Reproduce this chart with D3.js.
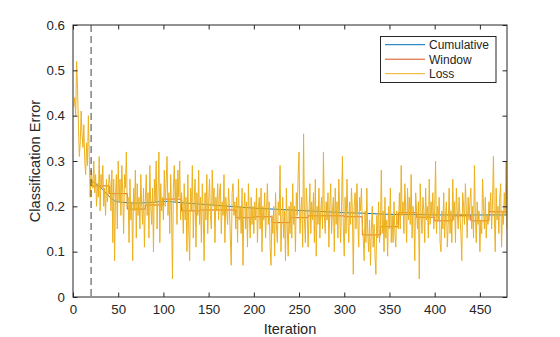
<!DOCTYPE html>
<html><head><meta charset="utf-8">
<script src="https://cdn.jsdelivr.net/npm/d3@7"></script>
<style>
html,body{margin:0;padding:0;background:#fff;}
svg{display:block;font-family:"Liberation Sans",Arial,sans-serif;}
</style></head>
<body><svg id="c" width="560" height="337"></svg>
<script>
// ---- data ----
const xTicks = [0,50,100,150,200,250,300,350,400,450];
const yTicks = [0,0.1,0.2,0.3,0.4,0.5,0.6];
const yTickLabels = ["0","0.1","0.2","0.3","0.4","0.5","0.6"];
const seriesNames = ["Cumulative","Window","Loss"];
const warmupIteration = 20;

const loss = [
0.42,0.44,0.40,0.52,0.46,0.38,0.31,0.34,0.41,0.36,0.33,0.38,0.30,0.27,0.34,0.29,0.40,0.31,0.22,0.28,
0.26,0.24,0.30,0.23,0.27,0.20,0.25,0.22,0.31,0.19,0.27,0.24,0.29,0.20,0.24,0.18,0.26,0.21,0.23,0.27,
0.25,0.19,0.28,0.12,0.26,0.08,0.22,0.27,0.15,0.30,0.21,0.26,0.18,0.29,0.23,0.14,0.27,0.24,0.32,0.20,
0.22,0.12,0.26,0.17,0.21,0.08,0.24,0.19,0.28,0.13,0.25,0.18,0.22,0.15,0.27,0.20,0.16,0.24,0.11,0.21,
0.27,0.18,0.23,0.13,0.29,0.20,0.16,0.24,0.10,0.26,0.21,0.30,0.15,0.23,0.32,0.12,0.25,0.19,0.22,0.17,
0.28,0.20,0.25,0.31,0.18,0.23,0.14,0.27,0.19,0.04,0.24,0.29,0.21,0.26,0.16,0.28,0.22,0.30,0.17,0.23,
0.20,0.14,0.25,0.17,0.22,0.10,0.27,0.15,0.08,0.24,0.19,0.29,0.13,0.21,0.26,0.11,0.23,0.18,0.28,0.16,
0.22,0.12,0.25,0.19,0.08,0.23,0.17,0.27,0.14,0.21,0.26,0.18,0.15,0.28,0.20,0.24,0.12,0.22,0.19,0.25,
0.17,0.23,0.25,0.14,0.21,0.18,0.27,0.12,0.22,0.19,0.16,0.24,0.20,0.13,0.07,0.23,0.25,0.18,0.21,0.15,
0.22,0.12,0.26,0.17,0.20,0.14,0.24,0.07,0.19,0.23,0.15,0.21,0.11,0.25,0.18,0.13,0.22,0.16,0.20,0.14,
0.21,0.17,0.24,0.12,0.19,0.22,0.15,0.24,0.10,0.20,0.17,0.23,0.13,0.19,0.25,0.16,0.21,0.11,0.07,0.18,
0.14,0.20,0.09,0.23,0.16,0.12,0.21,0.18,0.29,0.10,0.17,0.22,0.13,0.19,0.08,0.24,0.15,0.09,0.20,0.14,
0.21,0.13,0.25,0.16,0.20,0.10,0.23,0.18,0.27,0.32,0.14,0.19,0.22,0.11,0.36,0.17,0.12,0.24,0.20,0.11,
0.18,0.25,0.14,0.21,0.17,0.23,0.12,0.26,0.09,0.20,0.16,0.24,0.13,0.19,0.22,0.15,0.32,0.18,0.14,0.21,
0.17,0.23,0.11,0.20,0.25,0.14,0.19,0.22,0.10,0.24,0.16,0.21,0.13,0.26,0.18,0.12,0.20,0.31,0.15,0.09,
0.22,0.14,0.26,0.18,0.12,0.21,0.16,0.24,0.19,0.05,0.20,0.23,0.15,0.25,0.17,0.11,0.22,0.19,0.24,0.16,
0.13,0.08,0.19,0.12,0.24,0.14,0.10,0.17,0.07,0.15,0.20,0.11,0.16,0.09,0.05,0.18,0.13,0.21,0.12,0.15,
0.28,0.14,0.19,0.10,0.22,0.13,0.17,0.09,0.20,0.15,0.24,0.12,0.18,0.12,0.21,0.14,0.11,0.19,0.16,0.15,
0.23,0.15,0.29,0.18,0.21,0.14,0.25,0.19,0.12,0.24,0.17,0.22,0.16,0.27,0.13,0.20,0.18,0.08,0.23,0.19,
0.15,0.21,0.04,0.25,0.18,0.14,0.22,0.19,0.12,0.24,0.17,0.20,0.13,0.26,0.16,0.21,0.18,0.23,0.15,0.19,
0.30,0.14,0.20,0.17,0.22,0.12,0.10,0.19,0.15,0.23,0.13,0.18,0.21,0.11,0.16,0.24,0.14,0.19,0.12,0.26,
0.17,0.21,0.12,0.24,0.19,0.15,0.22,0.18,0.14,0.08,0.23,0.20,0.16,0.25,0.19,0.13,0.22,0.17,0.21,0.24,
0.15,0.20,0.13,0.29,0.18,0.12,0.21,0.16,0.19,0.10,0.17,0.14,0.26,0.20,0.15,0.22,0.13,0.18,0.16,0.21,
0.19,0.23,0.15,0.21,0.31,0.18,0.10,0.24,0.17,0.20,0.14,0.22,0.25,0.11,0.19,0.16,0.23,0.18,0.30,0.15
];

const windowStart = [20,40,60,80,100,120,140,160,180,200,220,240,260,280,300,320,340,360,380,400,420,440,460,480];
const windowValue = [0.245,0.228,0.194,0.203,0.216,0.190,0.192,0.192,0.175,0.177,0.164,0.175,0.179,0.179,0.177,0.137,0.155,0.186,0.176,0.168,0.179,0.168,0.188,0.188];

const cumIter  = [20,25,30,35,40,45,50,60,70,80,90,100,110,120,140,160,180,200,220,240,260,280,300,320,340,360,380,400,420,440,460,480];
const cumValue = [0.256,0.250,0.243,0.232,0.222,0.213,0.210,0.208,0.207,0.208,0.209,0.211,0.210,0.208,0.205,0.202,0.199,0.196,0.194,0.192,0.190,0.188,0.186,0.185,0.183,0.182,0.182,0.181,0.181,0.181,0.181,0.181];

// ---- chart ----
const colors = {Cumulative:"#0072BD", Window:"#D95319", Loss:"#EDB120"};
const axisColor = "#262626";
const L=73, R=507, T=25, B=297;
const svg = d3.select("#c");
const x = d3.scaleLinear().domain([0,480]).range([L,R]);
const y = d3.scaleLinear().domain([0,0.6]).range([B,T]);

const plot = svg.append("g");
plot.append("defs").append("clipPath").attr("id","clip")
  .append("rect").attr("x",L).attr("y",T).attr("width",R-L).attr("height",B-T);
const g = plot.append("g").attr("clip-path","url(#clip)");

// cumulative
g.append("path")
  .datum(cumIter.map((it,i)=>[it,cumValue[i]]))
  .attr("fill","none").attr("stroke",colors.Cumulative).attr("stroke-width",1)
  .attr("d", d3.line().x(d=>x(d[0])).y(d=>y(d[1])).curve(d3.curveMonotoneX));

// window (step)
g.append("path")
  .datum(windowStart.map((it,i)=>[it,windowValue[i]]))
  .attr("fill","none").attr("stroke",colors.Window).attr("stroke-width",1)
  .attr("d", d3.line().x(d=>x(d[0])).y(d=>y(d[1])).curve(d3.curveStepAfter));

// loss
g.append("path")
  .datum(loss.map((v,i)=>[i+1,v]))
  .attr("fill","none").attr("stroke",colors.Loss).attr("stroke-width",1)
  .attr("stroke-linejoin","round")
  .attr("d", d3.line().x(d=>x(d[0])).y(d=>y(d[1])));

// warmup dashed line
svg.append("line")
  .attr("x1",x(warmupIteration)).attr("x2",x(warmupIteration))
  .attr("y1",y(0.6)).attr("y2",y(0))
  .attr("stroke","#404040").attr("stroke-width",1).attr("stroke-dasharray","7,4");

// axes (ticks inward, box)
const tl = 4.5;
const axB = svg.append("g").attr("transform",`translate(0,${B})`)
  .call(d3.axisBottom(x).tickValues(xTicks).tickSizeInner(-tl).tickSizeOuter(0).tickPadding(8));
const axT = svg.append("g").attr("transform",`translate(0,${T})`)
  .call(d3.axisTop(x).tickValues(xTicks).tickSizeInner(-tl).tickSizeOuter(0).tickFormat(""));
const axL = svg.append("g").attr("transform",`translate(${L},0)`)
  .call(d3.axisLeft(y).tickValues(yTicks).tickSizeInner(-tl).tickSizeOuter(0).tickPadding(8)
    .tickFormat((d,i)=>yTickLabels[i]));
const axR = svg.append("g").attr("transform",`translate(${R},0)`)
  .call(d3.axisRight(y).tickValues(yTicks).tickSizeInner(-tl).tickSizeOuter(0).tickFormat(""));
[axB,axT,axL,axR].forEach(a=>{
  a.select(".domain").remove();
  a.selectAll("line").attr("stroke",axisColor);
  a.selectAll("text").attr("fill",axisColor).style("font-size","13.3px").style("font-family","Liberation Sans, Arial, sans-serif");
});
svg.append("rect").attr("x",L).attr("y",T).attr("width",R-L).attr("height",B-T)
  .attr("fill","none").attr("stroke",axisColor).attr("stroke-width",1);

// labels
svg.append("text").attr("x",(L+R)/2).attr("y",334).attr("text-anchor","middle")
  .attr("fill",axisColor).style("font-size","14.6px").text("Iteration");
svg.append("text").attr("transform",`translate(40,${(T+B)/2}) rotate(-90)`).attr("text-anchor","middle")
  .attr("fill",axisColor).style("font-size","14.6px").text("Classification Error");

// legend
const lg = svg.append("g");
lg.append("rect").attr("x",380.5).attr("y",36.5).attr("width",115.5).attr("height",46)
  .attr("fill","#fff").attr("stroke",axisColor).attr("stroke-width",1);
seriesNames.forEach((n,i)=>{
  const yy = 44.7 + i*14.5;
  lg.append("line").attr("x1",385).attr("x2",425).attr("y1",yy).attr("y2",yy)
    .attr("stroke",colors[n]).attr("stroke-width",1);
  lg.append("text").attr("x",429).attr("y",yy+4.3).attr("fill",axisColor)
    .style("font-size","12px").text(n);
});
</script></body></html>
